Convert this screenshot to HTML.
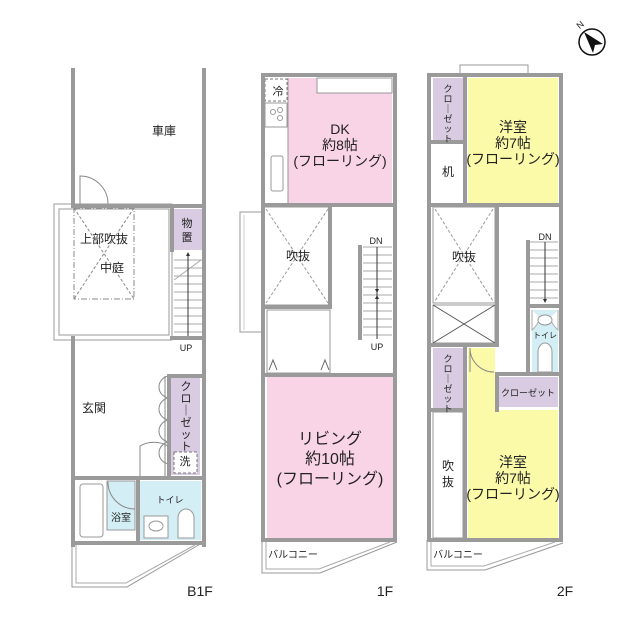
<!DOCTYPE html>
<html><head><meta charset="utf-8"><style>
html,body{margin:0;padding:0;background:#fff;}
svg{display:block;}
text{font-family:"Liberation Sans","Noto Sans CJK JP",sans-serif;fill:#222;}
</style></head><body>
<svg width="640" height="640" viewBox="0 0 640 640" xmlns="http://www.w3.org/2000/svg">
<g fill="none" stroke="#999" stroke-width="1">
<!-- ========== B1F ========== -->
<rect x="174" y="209" width="28" height="41" fill="#d8cbe2" stroke="none"/>
<rect x="171" y="376" width="29" height="74" fill="#d8cbe2" stroke="none"/>
<rect x="171" y="450" width="29" height="25" fill="#d8cbe2" stroke="none"/>
<rect x="107" y="481" width="28" height="49" fill="#d3eef5" stroke="#999"/>
<rect x="140" y="481" width="61" height="59" fill="#d3eef5" stroke="none"/>
<rect x="54" y="204" width="118" height="136" stroke="#999"/>
<rect x="59" y="209" width="110" height="126"/>
<rect x="74" y="208" width="60" height="91" stroke="#888" stroke-dasharray="6,2,1,2"/>
<line x1="74" y1="208" x2="134" y2="299" stroke="#888" stroke-dasharray="3,2"/>
<line x1="134" y1="208" x2="74" y2="299" stroke="#888" stroke-dasharray="3,2"/>
<g stroke="#aaa">
<line x1="174" y1="260" x2="202" y2="260"/><line x1="174" y1="268" x2="202" y2="268"/>
<line x1="174" y1="276" x2="202" y2="276"/><line x1="174" y1="284" x2="202" y2="284"/>
<line x1="174" y1="292" x2="202" y2="292"/><line x1="174" y1="300" x2="202" y2="300"/>
<line x1="174" y1="308" x2="202" y2="308"/><line x1="174" y1="316" x2="202" y2="316"/>
<line x1="174" y1="324" x2="202" y2="324"/><line x1="174" y1="332" x2="202" y2="332"/>
<line x1="174" y1="280" x2="201" y2="260"/>
</g>
<line x1="188" y1="340" x2="188" y2="253" stroke="#333"/>
<path d="M186 256 L188 252 L190 256Z" fill="#333" stroke="none"/>
<path d="M80 204 L80 176 A28 28 0 0 1 108 204" stroke="#888"/>
<g stroke="#888">
<path d="M170 376 A11 11 0 0 0 170 398"/><path d="M170 398 A11 11 0 0 0 170 420"/>
<path d="M170 420 A11 11 0 0 0 170 442"/><path d="M170 442 A11 11 0 0 0 170 464"/>
<path d="M140 478 L140 446 A28 28 0 0 1 168 446"/>
<line x1="165" y1="376" x2="165" y2="478"/>
</g>
<rect x="174" y="452" width="23" height="21" stroke="#777" stroke-dasharray="3,2" fill="#fff"/>
<rect x="80" y="484" width="23" height="53" rx="3"/>
<path d="M108 482 A27 27 0 0 0 135 509" stroke="#888"/>
<rect x="144" y="516" width="24" height="22" fill="#fff"/>
<ellipse cx="156" cy="526" rx="7" ry="5"/>
<path d="M178 538 L178 518 A8 9 0 0 1 194 518 L194 538Z" fill="#fff"/>
<path d="M72 543 L72 587 L127 587 L202 543" stroke="#999"/>
<path d="M76 545 L76 583 L126 583 L195 545" stroke="#aaa"/>
</g>
<g stroke="#9a9a9a" stroke-width="4" fill="none" stroke-linecap="square">
<line x1="73" y1="70" x2="73" y2="204"/><line x1="204" y1="70" x2="204" y2="545"/>
<line x1="73" y1="206" x2="204" y2="206"/>
<line x1="73" y1="338" x2="73" y2="545"/>
<line x1="172" y1="209" x2="172" y2="250"/>
<line x1="172" y1="338" x2="204" y2="338"/>
<line x1="169" y1="376" x2="204" y2="376"/>
<line x1="169" y1="376" x2="169" y2="478"/>
<line x1="73" y1="478" x2="204" y2="478"/>
<line x1="73" y1="543" x2="204" y2="543"/>
<line x1="138" y1="478" x2="138" y2="543"/>
</g>

<!-- ========== 1F ========== -->
<g fill="none" stroke="#999" stroke-width="1">
<rect x="288" y="78" width="104" height="125" fill="#f9d4e7" stroke="none"/>
<rect x="317" y="78" width="75" height="15" fill="#fff"/>
<rect x="265" y="79" width="22" height="22" stroke="#777" stroke-dasharray="3,2"/>
<rect x="265" y="103" width="22" height="24"/>
<circle cx="273" cy="112" r="2.5"/><circle cx="280" cy="110" r="2.5"/><circle cx="280" cy="118" r="2.5"/>
<rect x="271" y="156" width="12" height="35" rx="2"/>
<line x1="288" y1="78" x2="288" y2="203"/>
<rect x="264" y="207" width="66" height="98"/>
<line x1="266" y1="209" x2="328" y2="303" stroke="#999" stroke-dasharray="3,2"/>
<line x1="328" y1="209" x2="266" y2="303" stroke="#999" stroke-dasharray="3,2"/>
<path d="M262 212 L240 212 L240 332 L262 332"/>
<line x1="244" y1="215" x2="244" y2="330" stroke="#ccc"/>
<rect x="267" y="310" width="63" height="63"/>
<path d="M269 370 L273 360 L277 370 M321 370 L325 360 L329 370" stroke="#666"/>
<g stroke="#aaa">
<line x1="363" y1="255" x2="392" y2="255"/><line x1="363" y1="263" x2="392" y2="263"/>
<line x1="363" y1="271" x2="392" y2="271"/><line x1="363" y1="279" x2="392" y2="279"/>
<line x1="363" y1="287" x2="392" y2="287"/><line x1="363" y1="295" x2="392" y2="295"/>
<line x1="363" y1="303" x2="392" y2="303"/><line x1="363" y1="311" x2="392" y2="311"/>
<line x1="363" y1="319" x2="392" y2="319"/><line x1="363" y1="327" x2="392" y2="327"/>
<line x1="363" y1="247" x2="392" y2="247"/><line x1="363" y1="335" x2="392" y2="335"/>
</g>
<line x1="377" y1="247" x2="377" y2="339" stroke="#333"/>
<path d="M375 289 L377 293 L379 289Z M375 299 L377 295 L379 299Z" fill="#333" stroke="none"/>
<rect x="267" y="377" width="126" height="161" fill="#f9d4e7" stroke="none"/>
<path d="M262 540 L262 573 L320 573 L397 542"/>
<path d="M266 542 L266 569 L319 569 L390 542" stroke="#aaa"/>
</g>
<g stroke="#9a9a9a" stroke-width="4" fill="none" stroke-linecap="square">
<line x1="263" y1="75" x2="263" y2="540"/><line x1="395" y1="75" x2="395" y2="540"/>
<line x1="263" y1="75" x2="395" y2="75"/>
<line x1="263" y1="205" x2="395" y2="205"/>
<line x1="263" y1="307" x2="330" y2="307"/>
<line x1="330" y1="205" x2="330" y2="307"/>
<line x1="360" y1="247" x2="360" y2="338"/>
<line x1="263" y1="375" x2="395" y2="375"/>
<line x1="263" y1="540" x2="395" y2="540"/>
</g>

<!-- ========== 2F ========== -->
<g fill="none" stroke="#999" stroke-width="1">
<rect x="460" y="65" width="68" height="9"/>
<rect x="433" y="78" width="30" height="62" fill="#d8cbe2" stroke="none"/>
<rect x="468" y="78" width="90" height="125" fill="#fbfaa8" stroke="none"/>
<rect x="433" y="207" width="62" height="96"/>
<line x1="435" y1="209" x2="493" y2="301" stroke="#999" stroke-dasharray="3,2"/>
<line x1="493" y1="209" x2="435" y2="301" stroke="#999" stroke-dasharray="3,2"/>
<rect x="433" y="305" width="62" height="38"/>
<line x1="433" y1="305" x2="495" y2="343" stroke="#555"/>
<line x1="495" y1="305" x2="433" y2="343" stroke="#555"/>
<g stroke="#aaa">
<line x1="530" y1="250" x2="558" y2="250"/><line x1="530" y1="258" x2="558" y2="258"/>
<line x1="530" y1="266" x2="558" y2="266"/><line x1="530" y1="274" x2="558" y2="274"/>
<line x1="530" y1="282" x2="558" y2="282"/><line x1="530" y1="290" x2="558" y2="290"/>
<line x1="530" y1="298" x2="558" y2="298"/><line x1="530" y1="242" x2="558" y2="242"/>
</g>
<line x1="545" y1="242" x2="545" y2="301" stroke="#333"/>
<path d="M543 299 L545 303 L547 299Z" fill="#333" stroke="none"/>
<path d="M532 310 L558 310 L558 372 L532 372Z" fill="#d3eef5" stroke="none"/>
<path d="M532 310 L532 330 Q537 326 540 318 M558 310 L558 330 Q553 326 550 318" fill="#fff" stroke="#aaa"/>
<ellipse cx="545" cy="320" rx="7" ry="5" fill="#fff"/>
<path d="M538 372 L538 352 A7 9 0 0 1 552 352 L552 372Z" fill="#fff"/>
<rect x="433" y="348" width="30" height="60" fill="#d8cbe2" stroke="none"/>
<rect x="499" y="377" width="59" height="30" fill="#d8cbe2" stroke="none"/>
<path d="M468 348 L495 348 L495 410 L558 410 L558 538 L468 538Z" fill="#fbfaa8" stroke="none"/>
<path d="M470 348 L470 372 M470 348 A24 24 0 0 0 494 372" stroke="#888"/>
<rect x="433" y="412" width="30" height="126"/>
<path d="M427 540 L427 570 L485 570 L563 543"/>
<path d="M431 542 L431 566 L484 566 L555 542" stroke="#aaa"/>
</g>
<g stroke="#9a9a9a" stroke-width="4" fill="none" stroke-linecap="square">
<line x1="429" y1="75" x2="429" y2="540"/><line x1="561" y1="75" x2="561" y2="540"/>
<line x1="429" y1="75" x2="561" y2="75"/>
<line x1="429" y1="142" x2="465" y2="142"/>
<line x1="465" y1="78" x2="465" y2="205"/>
<line x1="429" y1="205" x2="561" y2="205"/>
<line x1="497" y1="205" x2="497" y2="345"/>
<line x1="429" y1="345" x2="497" y2="345"/>
<line x1="528" y1="242" x2="528" y2="374"/>
<line x1="528" y1="306" x2="561" y2="306"/>
<line x1="497" y1="374" x2="561" y2="374"/>
<line x1="497" y1="374" x2="497" y2="410"/>
<line x1="429" y1="410" x2="465" y2="410"/>
<line x1="465" y1="345" x2="465" y2="540"/>
<line x1="429" y1="540" x2="561" y2="540"/>
</g>

<!-- compass -->
<circle cx="592" cy="42" r="13" fill="#fff" stroke="#111" stroke-width="1.5"/>
<path d="M584 32 L603 44 L595 45 L593 53Z" fill="#111"/>
<text x="577" y="28" font-size="9" transform="rotate(-40 580 25)">N</text>

<!-- labels -->
<g font-size="12" text-anchor="middle">
<text x="164" y="135">車庫</text>
<text x="104" y="243">上部吹抜</text>
<text x="112" y="272">中庭</text>
<text x="94" y="412">玄関</text>
<text x="340" y="134" font-size="14">DK</text>
<text x="340" y="150" font-size="14">約8帖</text>
<text x="340" y="166" font-size="14">(フローリング)</text>
<text x="298" y="260">吹抜</text>
<text x="330" y="444" font-size="16">リビング</text>
<text x="330" y="464" font-size="16">約10帖</text>
<text x="330" y="484" font-size="16">(フローリング)</text>
<text x="513" y="132" font-size="14">洋室</text>
<text x="513" y="148" font-size="14">約7帖</text>
<text x="513" y="164" font-size="14">(フローリング)</text>
<text x="464" y="261">吹抜</text>
<text x="448" y="176">机</text>
<text x="448" y="470">吹</text>
<text x="448" y="486">抜</text>
<text x="513" y="467" font-size="14">洋室</text>
<text x="513" y="483" font-size="14">約7帖</text>
<text x="513" y="499" font-size="14">(フローリング)</text>
</g>
<g font-size="11" text-anchor="middle">
<text x="187" y="227">物</text><text x="187" y="241">置</text>
<text x="185" y="465">洗</text>
<text x="121" y="521" font-size="10">浴室</text>
<text x="170" y="503" font-size="9">トイレ</text>
<text x="545" y="338" font-size="8">トイレ</text>
<text x="528" y="396" font-size="9">クローゼット</text>
<text x="376" y="244" font-size="9">DN</text>
<text x="377" y="350" font-size="9">UP</text>
<text x="186" y="351" font-size="9">UP</text>
<text x="545" y="240" font-size="9">DN</text>
<text x="293" y="558" font-size="10">バルコニー</text>
<text x="458" y="558" font-size="10">バルコニー</text>
<text x="200" y="596" font-size="14">B1F</text>
<text x="385" y="596" font-size="14">1F</text>
<text x="565" y="596" font-size="14">2F</text>
<text x="278" y="95" font-size="11">冷</text>
</g>
<!-- vertical closet labels -->
<g font-size="11" text-anchor="middle">
<text x="186" y="390">ク</text><text x="186" y="402">ロ</text><text x="186" y="414">｜</text>
<text x="186" y="426">ゼ</text><text x="186" y="438">ッ</text><text x="186" y="450">ト</text>
</g>
<g font-size="9" text-anchor="middle">
<text x="448" y="92">ク</text><text x="448" y="102">ロ</text><text x="448" y="112">｜</text>
<text x="448" y="122">ゼ</text><text x="448" y="132">ッ</text><text x="448" y="142">ト</text>
<text x="448" y="362">ク</text><text x="448" y="372">ロ</text><text x="448" y="382">｜</text>
<text x="448" y="392">ゼ</text><text x="448" y="402">ッ</text><text x="448" y="412">ト</text>
</g>
</svg>
</body></html>
